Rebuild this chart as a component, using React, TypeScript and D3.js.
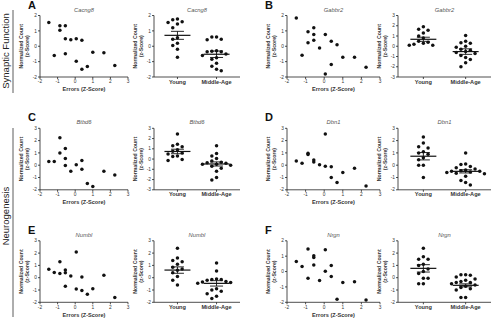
import React from "react";
import * as d3 from "d3";

// ---------------- DATA ----------------
const panelLetters = ["A", "B", "C", "D", "E", "F"];
const geneTitles = ["Cacng8", "Gabbr2", "Btbd6", "Dbn1", "Numbl", "Nrgn"];
const sectionLabels = ["Synaptic Function", "Neurogenesis"];
const xTickValues = [-2, -1, 0, 1, 2, 3];
const groupNames = ["Young", "Middle-Age"];

const scatterYDomains: [number, number][] = [[-2, 2], [-2, 2], [-2, 3], [-2, 3], [-2, 3], [-2, 2]];
const stripYDomains: [number, number][] = [[-2, 2], [-3, 3], [-3, 3], [-2, 3], [-2, 3], [-2, 3]];

const errX16 = [-1.5, -1.19, -0.87, -0.87, -0.56, -0.56, -0.56, -0.25, 0.06, 0.06, 0.38, 0.38, 0.69, 1.0, 1.63, 2.25];
const errXC = [-1.5, -1.19, -0.87, -0.87, -0.56, -0.56, -0.56, -0.25, 0.06, 0.38, 0.38, 0.69, 1.0, 1.63, 2.25];
const errXD = [-1.5, -1.19, -0.87, -0.87, -0.56, -0.56, -0.25, 0.06, 0.06, 0.38, 0.38, 0.69, 1.0, 1.63, 2.25];

const scatterA = [1.55, -0.6, 1.33, 1.04, 1.33, 0.48, -0.48, 0.43, 0.48, -0.98, 0.39, -1.5, -1.32, -0.39, -0.43, -1.26];
const scatterB = [1.84, -0.58, 0.95, 0.22, 1.21, 0.76, 0.39, -0.11, 0.76, -1.8, 0.32, -1.19, 0.09, -0.71, -0.71, -1.36];
const scatterC = [0.3, 0.3, 2.24, 1.0, 1.35, 0.54, -0.03, -0.5, 0.03, 0.38, -0.32, -1.48, -1.73, -0.5, -0.8];
const scatterD = [0.35, 0.16, 0.97, 0.86, 0.43, 0.27, 0.03, 2.54, -0.08, -0.13, -1.0, -1.4, -0.6, -0.24, -1.7];
const scatterE = [0.68, 0.43, 1.3, 0.35, 0.62, 0.4, -0.7, 0.14, 2.08, -0.92, 0.05, -1.05, -1.35, -0.89, 0.19, -1.6];
const scatterF = [0.65, 0.33, 1.46, -0.43, 1.02, 0.91, 0.43, -0.59, 1.41, 0.02, 0.39, -0.33, -1.8, -0.72, -0.67, -1.85];

const youngA = [1.78, 1.72, 1.6, 1.55, 1.45, 1.2, 0.55, 0.45, 0.2, 0.05, -0.2, -0.72];
const middleA = [0.6, 0.6, 0.45, 0.42, -0.3, -0.32, -0.35, -0.35, -0.5, -0.6, -0.75, -0.85, -1.1, -1.3, -1.5, -1.6];
const youngB = [1.9, 1.65, 1.55, 1.3, 1.0, 0.8, 0.5, 0.4, 0.3, 0.2, 0.1, 0.1];
const middleB = [1.05, 0.5, 0.35, 0.3, 0.0, -0.1, -0.3, -0.4, -0.5, -0.6, -0.7, -0.9, -1.1, -1.3, -1.6, -2.0];
const youngC = [2.45, 1.45, 1.3, 1.2, 0.9, 0.75, 0.6, 0.5, 0.3, 0.25, -0.05, -0.15];
const middleC = [1.3, 0.55, 0.3, 0.05, -0.2, -0.3, -0.35, -0.4, -0.5, -0.5, -0.6, -0.7, -0.9, -1.2, -1.8, -2.05];
const youngD = [2.3, 1.8, 1.5, 1.4, 1.1, 1.0, 0.9, 0.6, 0.45, 0.0, 0.0, -1.0];
const middleD = [1.0, 0.1, 0.05, -0.1, -0.2, -0.3, -0.4, -0.45, -0.5, -0.5, -0.55, -0.6, -0.65, -0.7, -0.9, -1.25, -1.4, -1.6];
const youngE = [2.4, 1.6, 1.4, 1.3, 1.1, 0.85, 0.7, 0.6, 0.4, 0.1, -0.2, -0.6];
const middleE = [1.2, 0.55, -0.1, -0.15, -0.15, -0.2, -0.3, -0.35, -0.4, -0.45, -0.9, -1.0, -1.1, -1.3, -1.5, -1.7];
const youngF = [2.4, 1.7, 1.5, 1.5, 1.1, 1.0, 0.7, 0.5, 0.35, -0.05, -0.05, -0.5, -0.5];
const middleF = [0.25, 0.25, 0.2, 0.05, -0.1, -0.2, -0.3, -0.4, -0.4, -0.5, -0.6, -0.7, -0.8, -0.9, -1.0, -1.6, -1.6];

const youngMeans = [0.71, 0.68, 0.74, 0.73, 0.62, 0.76];
const youngSems = [0.26, 0.2, 0.22, 0.3, 0.26, 0.3];
const middleMeans = [-0.52, -0.52, -0.48, -0.5, -0.46, -0.62];
const middleSems = [0.21, 0.27, 0.2, 0.13, 0.22, 0.12];

const scatterXs = [errX16, errX16, errXC, errXD, errX16, errX16];
const scatterYs = [scatterA, scatterB, scatterC, scatterD, scatterE, scatterF];
const youngVals = [youngA, youngB, youngC, youngD, youngE, youngF];
const middleVals = [middleA, middleB, middleC, middleD, middleE, middleF];

// ---------------- LAYOUT ----------------
const W = 495;
const H = 319;
const FONT = "'Liberation Sans', Arial, Helvetica, sans-serif";
const rowTops = [15.5, 128.3, 240.8];
const plotH = 61.5;
const cols = [
  { scatter: [40, 128], strip: [154, 240] },
  { scatter: [287, 380], strip: [398, 491] },
];
const R = 1.75;
const AXIS = "#222";
const TXT = "#333";

function beeswarm(vals: number[], y: (v: number) => number, cx: number) {
  const order = vals.map((v, i) => i).sort((a, b) => vals[b] - vals[a]);
  const placed: { x: number; y: number }[] = [];
  const step = 2 * R + 1.2;
  const res: { x: number; y: number }[] = new Array(vals.length);
  order.forEach((i) => {
    const py = y(vals[i]);
    for (let k = 0; k < 40; k++) {
      const off = k === 0 ? 0 : (k % 2 === 1 ? -1 : 1) * Math.ceil(k / 2) * step;
      const px = cx + off;
      const hit = placed.some((p) => Math.abs(p.x - px) < step - 0.01 && Math.abs(p.y - py) < step * 1.05);
      if (!hit) {
        placed.push({ x: px, y: py });
        res[i] = { x: px, y: py };
        break;
      }
    }
  });
  return res;
}

function YAxis({ x, y, domain }: { x: number; y: d3.ScaleLinear<number, number>; domain: [number, number] }) {
  const ticks = d3.range(domain[0], domain[1] + 1);
  return (
    <g>
      <line x1={x} x2={x} y1={y(domain[0])} y2={y(domain[1])} stroke={AXIS} strokeWidth={0.8} />
      {ticks.map((t) => (
        <g key={t}>
          <line x1={x - 2} x2={x} y1={y(t)} y2={y(t)} stroke={AXIS} strokeWidth={0.8} />
          <text x={x - 3} y={y(t)} dy="0.35em" fontSize={4.8} textAnchor="end" fill={TXT}>
            {String(t)}
          </text>
        </g>
      ))}
    </g>
  );
}

function YLabel({ x, cy }: { x: number; cy: number }) {
  return (
    <g transform={`translate(${x},${cy}) rotate(-90)`}>
      <text x={0} y={0} fontSize={5.2} textAnchor="middle" fill={TXT} fontWeight="bold">
        Normalized Count
      </text>
      <text x={0} y={6} fontSize={5.2} textAnchor="middle" fill={TXT} fontWeight="bold">
        (z-Score)
      </text>
    </g>
  );
}

function Scatter({ idx, top, range }: { idx: number; top: number; range: number[] }) {
  const dom = scatterYDomains[idx];
  const y = d3.scaleLinear().domain(dom).range([top + plotH, top]);
  const x = d3.scaleLinear().domain([-2, 3]).range(range);
  const xs = scatterXs[idx];
  const ys = scatterYs[idx];
  const bottom = top + plotH;
  return (
    <g>
      <text x={(range[0] + range[1]) / 2} y={top - 4} fontSize={5.8} fontStyle="italic" textAnchor="middle" fill="#555">
        {geneTitles[idx]}
      </text>
      <YAxis x={range[0]} y={y} domain={dom} />
      <line x1={range[0]} x2={range[1]} y1={bottom} y2={bottom} stroke={AXIS} strokeWidth={0.8} />
      {xTickValues.map((t) => (
        <g key={t}>
          <line x1={x(t)} x2={x(t)} y1={bottom} y2={bottom + 2} stroke={AXIS} strokeWidth={0.8} />
          <text x={x(t)} y={bottom + 6.3} fontSize={4.8} textAnchor="middle" fill={TXT}>
            {String(t)}
          </text>
        </g>
      ))}
      <text x={(range[0] + range[1]) / 2} y={bottom + 14.2} fontSize={5.6} textAnchor="middle" fill={TXT} fontWeight="bold">
        Errors (Z-Score)
      </text>
      <YLabel x={range[0] - 17.5} cy={top + plotH / 2} />
      {xs.map((v, i) => (
        <circle key={i} cx={x(v)} cy={y(ys[i])} r={R} fill="#111" />
      ))}
    </g>
  );
}

function Strip({ idx, top, range }: { idx: number; top: number; range: number[] }) {
  const dom = stripYDomains[idx];
  const y = d3.scaleLinear().domain(dom).range([top + plotH, top]);
  const xb = d3.scalePoint<string>().domain(groupNames).range(range as [number, number]).padding(0.6);
  const bottom = top + plotH;
  const groups = [
    { name: groupNames[0], vals: youngVals[idx], mean: youngMeans[idx], sem: youngSems[idx] },
    { name: groupNames[1], vals: middleVals[idx], mean: middleMeans[idx], sem: middleSems[idx] },
  ];
  return (
    <g>
      <text x={(range[0] + range[1]) / 2} y={top - 4} fontSize={5.8} fontStyle="italic" textAnchor="middle" fill="#555">
        {geneTitles[idx]}
      </text>
      <YAxis x={range[0]} y={y} domain={dom} />
      <line x1={range[0]} x2={range[1]} y1={bottom} y2={bottom} stroke={AXIS} strokeWidth={0.8} />
      <YLabel x={range[0] - 17.5} cy={top + plotH / 2} />
      {groups.map((g) => {
        const cx = xb(g.name) as number;
        const pts = beeswarm(g.vals, (v) => y(v), cx);
        return (
          <g key={g.name}>
            <line x1={cx} x2={cx} y1={bottom} y2={bottom + 2} stroke={AXIS} strokeWidth={0.8} />
            <text x={cx} y={bottom + 6.5} fontSize={5.6} textAnchor="middle" fill={TXT} fontWeight="bold">
              {g.name}
            </text>
            {pts.map((p, i) => (
              <circle key={i} cx={p.x} cy={p.y} r={R} fill="#111" />
            ))}
            <line x1={cx - 13} x2={cx + 13} y1={y(g.mean)} y2={y(g.mean)} stroke="#111" strokeWidth={1.2} />
            <line x1={cx} x2={cx} y1={y(g.mean - g.sem)} y2={y(g.mean + g.sem)} stroke="#111" strokeWidth={0.9} />
            <line x1={cx - 6.5} x2={cx + 6.5} y1={y(g.mean + g.sem)} y2={y(g.mean + g.sem)} stroke="#111" strokeWidth={0.9} />
            <line x1={cx - 6.5} x2={cx + 6.5} y1={y(g.mean - g.sem)} y2={y(g.mean - g.sem)} stroke="#111" strokeWidth={0.9} />
          </g>
        );
      })}
    </g>
  );
}

export default function App() {
  return (
    <svg width={W} height={H} style={{ position: "absolute", left: 0, top: 0, background: "#fff" }} fontFamily={FONT}>
      <rect width={W} height={H} fill="#fff" />
      <g transform="translate(9,51) rotate(-90)">
        <text fontSize={9.5} textAnchor="middle" fill="#222">{sectionLabels[0]}</text>
      </g>
      <line x1={13} x2={13} y1={10} y2={93} stroke="#333" strokeWidth={0.8} />
      <g transform="translate(9,216) rotate(-90)">
        <text fontSize={9.5} textAnchor="middle" fill="#222">{sectionLabels[1]}</text>
      </g>
      <line x1={13} x2={13} y1={128} y2={317} stroke="#333" strokeWidth={0.8} />
      {panelLetters.map((L, i) => {
        const row = Math.floor(i / 2);
        const col = i % 2;
        const top = rowTops[row];
        const c = cols[col];
        return (
          <g key={L}>
            <text x={col === 0 ? 28 : 265} y={top - 7} fontSize={11} fontWeight="bold" fill="#111">
              {L}
            </text>
            <Scatter idx={i} top={top} range={c.scatter} />
            <Strip idx={i} top={top} range={c.strip} />
          </g>
        );
      })}
    </svg>
  );
}
